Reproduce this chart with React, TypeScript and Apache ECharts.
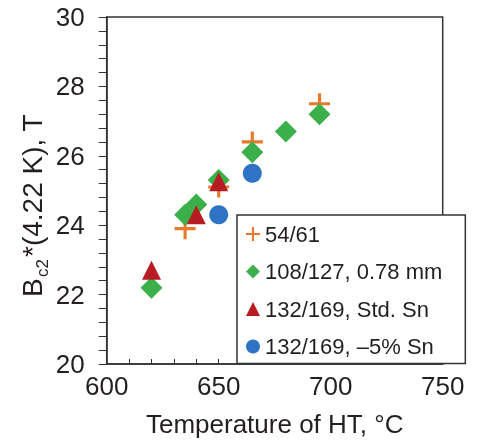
import React, { useEffect, useRef } from "react";
import * as echarts from "echarts";

const seriesNames = ["54/61", "108/127, 0.78 mm", "132/169, Std. Sn", "132/169, –5% Sn"];
const temp54 = [635, 650, 665, 695];
const bc54 = [23.9, 25.1, 26.4, 27.5];
const temp108 = [620, 635, 640, 650, 665, 680, 695];
const bc108 = [22.2, 24.3, 24.6, 25.3, 26.1, 26.7, 27.2];
const tempStd = [620, 640, 650];
const bcStd = [22.7, 24.3, 25.25];
const tempM5 = [650, 665];
const bcM5 = [24.3, 25.5];

const colors = ["#e8792b", "#3bb04a", "#b71c22", "#2f74c4"];
const CROSS = "path://M8.5,0H11.5V8.5H20V11.5H11.5V20H8.5V11.5H0V8.5H8.5Z";
const symbols = [CROSS, "diamond", "triangle", "circle"];
const sizes = [21, 22, 19, 19];

const zip = (xs: number[], ys: number[]) => xs.map((x, i) => [x, ys[i]]);

const FONT = "'Liberation Sans', Arial, Helvetica, sans-serif";
const TXT = "#231f20";
const AX = "#333333";

export default function App() {
  const ref = useRef<HTMLDivElement>(null);
  useEffect(() => {
    if (!ref.current) return;
    const chart = echarts.init(ref.current, undefined, { renderer: "svg" });
    const datasets = [zip(temp54, bc54), zip(temp108, bc108), zip(tempStd, bcStd), zip(tempM5, bcM5)];
    chart.setOption({
      animation: false,
      textStyle: { fontFamily: FONT },
      grid: {
        left: 106.7,
        top: 17,
        right: 38.3,
        bottom: 71,
        show: true,
        borderColor: AX,
        borderWidth: 1.5,
      },
      xAxis: {
        type: "value",
        min: 600,
        max: 750,
        interval: 50,
        name: "Temperature of HT, °C",
        nameLocation: "middle",
        nameGap: 47,
        nameTextStyle: { fontSize: 26, color: TXT, fontFamily: FONT },
        axisLine: { show: true, lineStyle: { color: AX, width: 1.5 } },
        axisTick: { show: true, inside: true, length: 5, lineStyle: { color: AX, width: 1 } },
        minorTick: { show: true, splitNumber: 5, length: 5, lineStyle: { color: AX, width: 1 } },
        axisLabel: { fontSize: 26, color: TXT, margin: 9, fontFamily: FONT },
        splitLine: { show: false },
      },
      yAxis: {
        type: "value",
        min: 20,
        max: 30,
        interval: 2,
        axisLine: { show: true, lineStyle: { color: AX, width: 1.5 } },
        axisTick: { show: true, inside: false, length: 8, lineStyle: { color: AX, width: 1 } },
        minorTick: { show: true, splitNumber: 5, length: 8, lineStyle: { color: AX, width: 1 } },
        axisLabel: { fontSize: 26, color: TXT, margin: 22, fontFamily: FONT },
        splitLine: { show: false },
      },
      legend: {
        orient: "vertical",
        left: 237,
        top: 215,
        padding: [8, 23, 6, 9],
        itemGap: 15.5,
        itemWidth: 14,
        itemHeight: 14,
        backgroundColor: "#ffffff",
        borderColor: AX,
        borderWidth: 1.5,
        borderRadius: 0,
        textStyle: { fontSize: 22, color: TXT, fontFamily: FONT },
        data: seriesNames.map((n, i) => ({ name: n, icon: symbols[i] })),
        selectedMode: false,
      },
      graphic: [
        {
          type: "group",
          x: 32,
          y: 297,
          rotation: Math.PI / 2,
          children: [
            {
              type: "text",
              x: 0,
              y: 0,
              style: { text: "B", fontSize: 28, fill: TXT, fontFamily: FONT, align: "left", verticalAlign: "middle" },
            },
            {
              type: "text",
              x: 20,
              y: 10,
              style: { text: "c2", fontSize: 17, fill: TXT, fontFamily: FONT, align: "left", verticalAlign: "middle" },
            },
            {
              type: "text",
              x: 40,
              y: 0,
              style: { text: "*(4.22 K), T", fontSize: 28, fill: TXT, fontFamily: FONT, align: "left", verticalAlign: "middle" },
            },
          ],
        },
      ],
      series: seriesNames.map((n, i) => ({
        name: n,
        type: "scatter",
        data: datasets[i],
        symbol: symbols[i],
        symbolSize: sizes[i],
        itemStyle: { color: colors[i], opacity: 1 },
        z: 2 + i,
      })),
    });
    return () => chart.dispose();
  }, []);
  return <div ref={ref} style={{ position: "fixed", left: 0, top: 0, width: 481, height: 442 }} />;
}
